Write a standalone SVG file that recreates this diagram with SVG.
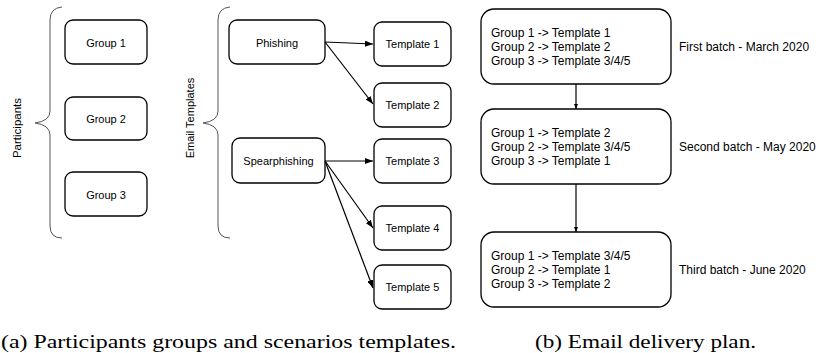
<svg xmlns="http://www.w3.org/2000/svg" width="821" height="353" viewBox="0 0 821 353">
<defs>
<style>
.box{fill:#fff;stroke:#000;stroke-width:1.3}
.t{font-family:"Liberation Sans",Arial,sans-serif;font-size:11px;fill:#000;text-anchor:middle;dominant-baseline:central}
.t2{font-family:"Liberation Sans",Arial,sans-serif;font-size:12px;fill:#000}
.brace{fill:none;stroke:#555;stroke-width:1}
.e{stroke:#000;stroke-width:1.2;fill:none}
.cap{font-family:"Liberation Serif","Times New Roman",serif;font-size:19px;fill:#000}
</style>
<marker id="ah" markerWidth="8" markerHeight="6" refX="8" refY="3" orient="auto" markerUnits="userSpaceOnUse">
<path d="M0,0 L8,3 L0,6 Z" fill="#000"/>
</marker>
<marker id="ah2" markerWidth="5" markerHeight="4" refX="5" refY="2" orient="auto" markerUnits="userSpaceOnUse">
<path d="M0,0 L5,2 L0,4 Z" fill="#000"/>
</marker>
</defs>
<rect width="821" height="353" fill="#fff"/>

<g id="participants-brace">
<path class="brace" d="M62,7 Q50,8 50,20 L50,111 Q50,121 35,123 Q50,125 50,135 L50,226 Q50,238 62,238"/>
<text class="t" transform="translate(17,128) rotate(-90)" style="font-size:11.5px">Participants</text>
</g>
<g id="templates-brace">
<path class="brace" d="M230,7 Q218,8 218,20 L218,111 Q218,121 203,123 Q218,125 218,135 L218,226 Q218,238 230,238"/>
<text class="t" transform="translate(190,118) rotate(-90)" style="font-size:11px">Email Templates</text>
</g>

<g id="group1"><rect class="box" x="65" y="20" width="82" height="44" rx="8"/><text class="t" x="106" y="43">Group 1</text></g>
<g id="group2"><rect class="box" x="65" y="97" width="82" height="43" rx="8"/><text class="t" x="106" y="119">Group 2</text></g>
<g id="group3"><rect class="box" x="65" y="172" width="82" height="44" rx="8"/><text class="t" x="106" y="195">Group 3</text></g>

<g id="phishing"><rect class="box" x="229" y="20" width="96" height="44" rx="8"/><text class="t" x="277" y="43">Phishing</text></g>
<g id="spearphishing"><rect class="box" x="232" y="138" width="93" height="45" rx="8"/><text class="t" x="278.5" y="161">Spearphishing</text></g>

<g id="template1"><rect class="box" x="374" y="22" width="77" height="44" rx="8"/><text class="t" x="412.5" y="44">Template 1</text></g>
<g id="template2"><rect class="box" x="374" y="83" width="77" height="44" rx="8"/><text class="t" x="412.5" y="105">Template 2</text></g>
<g id="template3"><rect class="box" x="374" y="139" width="77" height="44" rx="8"/><text class="t" x="412.5" y="161">Template 3</text></g>
<g id="template4"><rect class="box" x="374" y="206" width="77" height="44" rx="8"/><text class="t" x="412.5" y="228">Template 4</text></g>
<g id="template5"><rect class="box" x="374" y="265" width="77" height="44" rx="8"/><text class="t" x="412.5" y="287">Template 5</text></g>

<g id="batch1">
<rect class="box" x="481" y="9" width="190" height="75" rx="13"/>
<text class="t2" x="491" y="37">Group 1 -&gt; Template 1</text>
<text class="t2" x="491" y="51">Group 2 -&gt; Template 2</text>
<text class="t2" x="491" y="65">Group 3 -&gt; Template 3/4/5</text>
<text class="t2" x="679" y="51">First batch - March 2020</text>
</g>
<g id="batch2">
<rect class="box" x="481" y="109" width="190" height="75" rx="13"/>
<text class="t2" x="491" y="137">Group 1 -&gt; Template 2</text>
<text class="t2" x="491" y="151">Group 2 -&gt; Template 3/4/5</text>
<text class="t2" x="491" y="165">Group 3 -&gt; Template 1</text>
<text class="t2" x="679" y="151">Second batch - May 2020</text>
</g>
<g id="batch3">
<rect class="box" x="481" y="232" width="190" height="75" rx="13"/>
<text class="t2" x="491" y="260">Group 1 -&gt; Template 3/4/5</text>
<text class="t2" x="491" y="274">Group 2 -&gt; Template 1</text>
<text class="t2" x="491" y="288">Group 3 -&gt; Template 2</text>
<text class="t2" x="679" y="274">Third batch - June 2020</text>
</g>

<g id="connectors">
<line class="e" x1="325" y1="42" x2="373" y2="44" marker-end="url(#ah)"/>
<line class="e" x1="325" y1="42" x2="373" y2="104" marker-end="url(#ah)"/>
<line class="e" x1="325" y1="161" x2="373" y2="161" marker-end="url(#ah)"/>
<line class="e" x1="325" y1="161" x2="373" y2="228" marker-end="url(#ah)"/>
<line class="e" x1="325" y1="161" x2="373" y2="288" marker-end="url(#ah)"/>
<line class="e" x1="576" y1="84" x2="576" y2="109" stroke-width="0.9" marker-end="url(#ah2)"/>
<line class="e" x1="576" y1="184" x2="576" y2="232" stroke-width="0.9" marker-end="url(#ah2)"/>
</g>

<g id="captions">
<text class="cap" x="1" y="348" textLength="455" lengthAdjust="spacingAndGlyphs">(a) Participants groups and scenarios templates.</text>
<text class="cap" x="535" y="348" textLength="221" lengthAdjust="spacingAndGlyphs">(b) Email delivery plan.</text>
</g>
</svg>
